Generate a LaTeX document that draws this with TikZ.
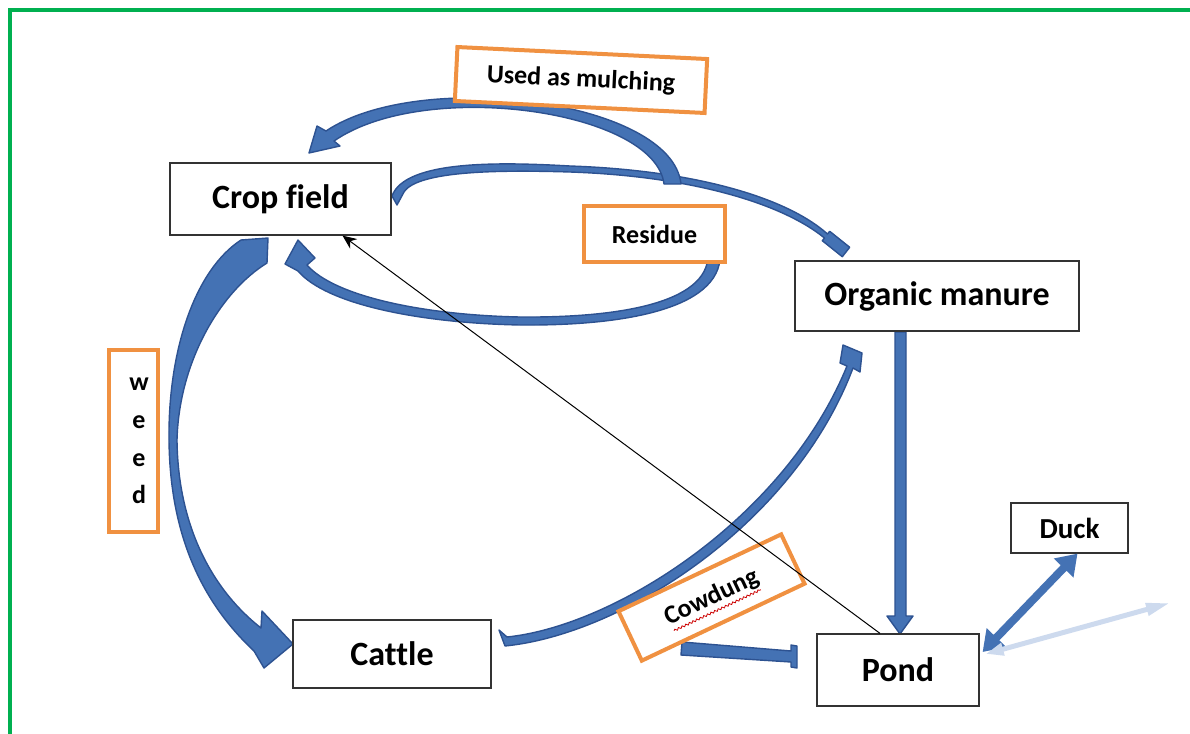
\documentclass[tikz,border=0pt]{standalone}
\usepackage{fontspec}
\setmainfont{Carlito}[Ligatures=NoCommon]
\usetikzlibrary{arrows.meta,calc,decorations.pathmorphing}
\definecolor{abl}{RGB}{68,114,180}
\definecolor{abd}{RGB}{45,82,145}
\definecolor{ora}{RGB}{240,145,65}
\definecolor{grn}{RGB}{0,176,80}
\definecolor{pale}{RGB}{205,218,238}
\begin{document}
\begin{tikzpicture}[x=0.5pt,y=-0.5pt,
  box/.style={draw=black!80, line width=0.6pt, fill=white, inner sep=0pt,
    font=\fontsize{17}{20}\selectfont\bfseries},
  lab/.style={draw=ora, line width=2pt, fill=white, inner sep=0pt,
    font=\fontsize{13}{15}\selectfont\bfseries},
  fat/.style={fill=abl, draw=abd, line width=0.7pt, line join=round}]
\useasboundingbox (0,0) rectangle (1190,734);
\begin{scope}
\clip (0,0) rectangle (1190,734);
\draw[grn, line width=2pt] (10,10) rectangle (1205,760);
\end{scope}

% fat arrows
% crop field -> organic manure
\path[fat] (392,196) .. controls (405,160) and (500,162) .. (570,166)
  .. controls (690,170) and (785,196) .. (827.5,234)
  -- (829.7,231.3) -- (849.7,247.3) -- (842.3,256.7) -- (822.3,240.7) -- (824.5,238)
  .. controls (780,202) and (688,176) .. (570,172)
  .. controls (505,170) and (418,170) .. (404,192) -- (397,205) -- cycle;
% used as mulching
\path[fat] (681,184) .. controls (672,100) and (420,68) .. (326,131)
  -- (317,126) -- (309,153) -- (340,146) -- (334,141)
  .. controls (425,78) and (655,110) .. (664,184) -- cycle;
% residue loop -> crop field
\path[fat] (719,244) .. controls (732,303) and (642,326) .. (520,325)
  .. controls (418,323) and (326,304) .. (298,271)
  -- (285,264) -- (298,240) -- (315,258) -- (307,265)
  .. controls (334,296) and (422,315) .. (520,317)
  .. controls (638,318) and (718,297) .. (707,246) -- cycle;
% weed: crop field -> cattle
\path[fat] (241,240) .. controls (195,270) and (168,350) .. (169,440)
  .. controls (170,540) and (205,605) .. (254,651)
  -- (264,668) -- (293,644) -- (262,611) -- (261,628)
  .. controls (215,592) and (178,530) .. (177,440)
  .. controls (179,362) and (220,292) .. (267,263) -- (268,238) -- cycle;
% cattle -> organic manure
\path[fat] (505,646) .. controls (625,634) and (795,522) .. (853,368)
  -- (860,372) -- (862,353) -- (843,345) -- (840,363) -- (847,366)
  .. controls (785,518) and (615,626) .. (507,637) -- (499,630) -- cycle;
% organic manure -> pond
\path[fat] (895,332) -- (906,332) -- (906,616) -- (913,616) -- (900,634)
  -- (887,616) -- (895,616) -- cycle;
% cowdung arrow
\path[fat] (682,642) -- (791,651) -- (791,645) -- (797,646) -- (797,668)
  -- (791,667) -- (791,662) -- (681,655) -- cycle;

% boxes
\node[box, minimum width=110.5pt, minimum height=36pt] (crop) at (280.5,199) {Crop field};
\node[box, minimum width=142pt, minimum height=35pt] (manure) at (937,296) {Organic manure};
\node[box, minimum width=99pt, minimum height=34pt] (cattle) at (392,654) {Cattle};
\node[box, minimum width=81pt, minimum height=36pt] (pond) at (898,670) {Pond};
\node[box, minimum width=58.5pt, minimum height=25pt,
  font=\fontsize{14.5}{17}\selectfont\bfseries] (duck) at (1069.5,528) {Duck};

% labels
\node[lab, minimum width=125pt, minimum height=27pt, rotate=-2.75] (mulch) at (581,80) {Used as mulching};
\node[lab, minimum width=70.5pt, minimum height=28pt] (residue) at (654.5,234) {Residue};
\node[lab, minimum width=24.5pt, minimum height=91pt, align=center,
  font=\fontsize{13}{18.9}\selectfont\bfseries] (weed) at (133.5,441)
  {\hspace*{5.5pt}w\\\hspace*{5.5pt}e\\\hspace*{5.5pt}e\\\hspace*{5.5pt}d};
\node[lab, minimum width=90pt, minimum height=27.3pt, rotate=25.3] (cow) at (711.5,597.5) {Cowdung};
\begin{scope}[shift={(cow.center)}, rotate=25.3]
\draw[red!80!black, line width=0.4pt, decorate,
  decoration={snake, amplitude=0.5pt, segment length=2pt}] (-24pt,-7pt) -- (24pt,-7pt);
\end{scope}

% thin connectors
\draw[line width=0.5pt, -{Stealth[length=7pt,width=6pt]}]
  ($(pond.north)+(-18,0)$) -- ($(crop.south)+(62,0)$);
\draw[abl, line width=4pt, {Triangle[width=13pt,length=10pt]}-{Triangle[width=13pt,length=10pt]}]
  ($(pond.east)+(3,-18)$) -- ($(duck.south)+(8,0)$);
\coordinate (paleend) at (1170,603);
\draw[pale, line width=2.5pt, {Triangle[width=6pt,length=9pt]}-{Triangle[width=6pt,length=12pt]}]
  ($(pond.east)+(6,-16)$) -- (paleend);
\end{tikzpicture}
\end{document}
